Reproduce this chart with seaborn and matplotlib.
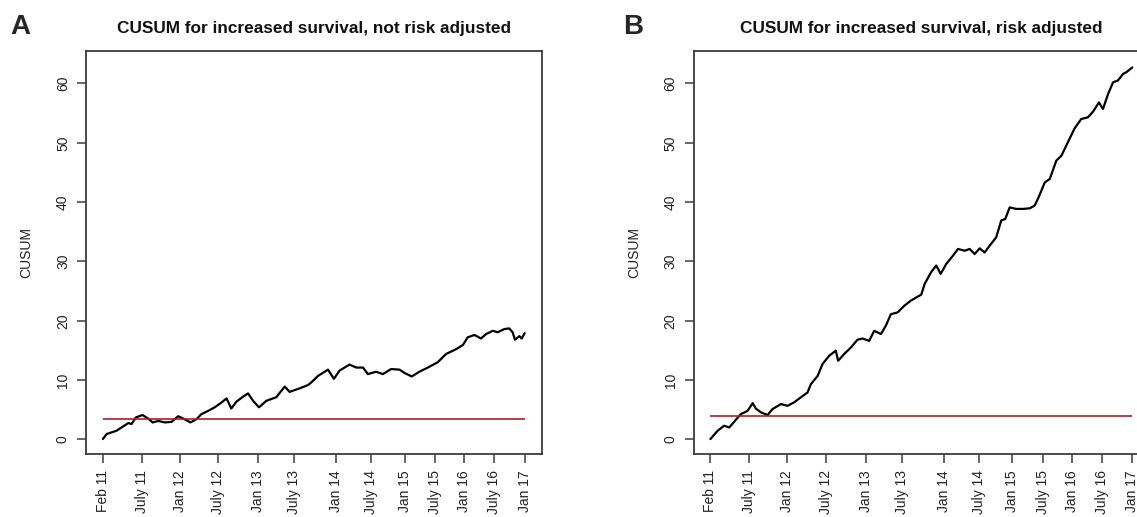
import matplotlib
matplotlib.use("Agg")
import matplotlib.pyplot as plt
import pandas as pd
import seaborn as sns

# ---- data (x = case number, y = CUSUM) ----
tick_cases = [1, 185, 366, 548, 737, 907, 1107, 1272, 1432, 1577, 1713, 1856, 2000]
tick_labels = ["Feb 11", "July 11", "Jan 12", "July 12", "Jan 13", "July 13", "Jan 14",
               "July 14", "Jan 15", "July 15", "Jan 16", "July 16", "Jan 17"]

# A: not risk adjusted
case_a = [1, 19, 66, 98, 122, 137, 158, 189, 216, 237, 264, 295, 327, 358, 382, 416,
          445, 468, 500, 531, 563, 587, 610, 634, 662, 689, 713, 741, 776, 823, 863,
          886, 934, 973, 989, 1021, 1068, 1096, 1123, 1170, 1202, 1234, 1257, 1296,
          1328, 1367, 1407, 1430, 1465, 1501, 1541, 1588, 1628, 1675, 1707, 1730,
          1762, 1793, 1817, 1849, 1872, 1904, 1927, 1943, 1954, 1975, 1986, 2000]
cusum_a = [0.05, 0.9, 1.45, 2.2, 2.75, 2.58, 3.7, 4.1, 3.5, 2.85, 3.1, 2.85, 2.95, 3.9,
           3.5, 2.85, 3.4, 4.25, 4.8, 5.4, 6.2, 6.9, 5.2, 6.35, 7.1, 7.75, 6.5, 5.4,
           6.5, 7.1, 8.9, 8.0, 8.6, 9.15, 9.6, 10.7, 11.75, 10.2, 11.6, 12.6, 12.1,
           12.1, 11.0, 11.4, 11.0, 11.85, 11.75, 11.2, 10.6, 11.4, 12.1, 13.0, 14.4,
           15.2, 15.9, 17.2, 17.6, 17.0, 17.75, 18.3, 18.05, 18.6, 18.7, 18.05, 16.8,
           17.4, 17.0, 17.9]
limit_a = 3.5

# B: risk adjusted
case_b = [1, 35, 66, 90, 113, 145, 177, 201, 216, 240, 272, 295, 335, 366, 398, 430,
          461, 477, 509, 532, 564, 595, 606, 635, 667, 698, 722, 753, 777, 809, 832,
          856, 888, 919, 951, 985, 1000, 1016, 1047, 1071, 1092, 1118, 1150, 1174,
          1206, 1229, 1253, 1277, 1300, 1324, 1355, 1379, 1398, 1419, 1450, 1482,
          1514, 1537, 1556, 1585, 1609, 1640, 1664, 1695, 1727, 1758, 1790, 1814,
          1842, 1861, 1885, 1909, 1932, 1956, 1972, 2000]
cusum_b = [0.05, 1.45, 2.3, 2.0, 2.95, 4.25, 4.8, 6.1, 5.2, 4.55, 4.1, 5.1, 5.95, 5.65,
           6.25, 7.1, 7.9, 9.3, 10.7, 12.7, 14.1, 14.95, 13.25, 14.4, 15.5, 16.8, 17.0,
           16.6, 18.3, 17.75, 19.15, 21.1, 21.4, 22.5, 23.4, 24.1, 24.4, 26.2, 28.2,
           29.3, 27.9, 29.55, 30.95, 32.1, 31.8, 32.1, 31.25, 32.2, 31.5, 32.65, 34.05,
           36.9, 37.15, 39.1, 38.85, 38.85, 38.95, 39.4, 40.8, 43.3, 43.9, 47.0, 47.8,
           50.1, 52.45, 54.0, 54.3, 55.25, 56.8, 55.7, 58.2, 60.2, 60.5, 61.6, 61.9,
           62.7]
limit_b = 3.9

titles = ["CUSUM for increased survival, not risk adjusted",
          "CUSUM for increased survival, risk adjusted"]
panel_letters = ["A", "B"]

sns.set_theme(style="ticks")
plt.rcParams["font.family"] = ["Liberation Sans", "DejaVu Sans"]

fig = plt.figure(figsize=(11.37, 5.17), dpi=100)
ax_a = fig.add_axes([0.0756, 0.1213, 0.4007, 0.7806])
ax_b = fig.add_axes([0.6100, 0.1213, 0.4007, 0.7806])

spine_col = "#3c3c3c"
panels = [(ax_a, case_a, cusum_a, limit_a), (ax_b, case_b, cusum_b, limit_b)]
for i, (ax, xs, ys, lim) in enumerate(panels):
    df = pd.DataFrame({"case": xs, "cusum": ys})
    sns.lineplot(data=df, x="case", y="cusum", ax=ax, color="black",
                 linewidth=1.6, estimator=None, sort=False)
    ax.hlines(lim, tick_cases[0], tick_cases[-1], color="#a82020", linewidth=1.2)

    span = tick_cases[-1] - tick_cases[0]
    ax.set_xlim(tick_cases[0] - 0.04 * span, tick_cases[-1] + 0.04 * span)
    ax.set_ylim(-2.52, 65.52)
    ax.set_xticks(tick_cases)
    ax.set_xticklabels(tick_labels, rotation=90, ha="center", va="top")
    ax.set_yticks([0, 10, 20, 30, 40, 50, 60])
    ax.set_yticklabels(["0", "10", "20", "30", "40", "50", "60"],
                       rotation=90, va="center", ha="right")
    ax.tick_params(axis="both", length=6.5, width=1.1, color=spine_col,
                   labelsize=10, labelcolor="#222222")
    ax.tick_params(axis="x", pad=5)
    ax.tick_params(axis="y", pad=5)
    for s in ax.spines.values():
        s.set_visible(True)
        s.set_color(spine_col)
        s.set_linewidth(1.3)

    ax.set_xlabel("")
    ax.set_ylabel("CUSUM", fontsize=10, color="#222222")
    ax.yaxis.set_label_coords(-0.115, 0.5)
    ax.set_title(titles[i], fontsize=12.4, fontweight="bold", pad=13, color="#111111")

fig.text(10 / 1137, 1 - 34 / 517, panel_letters[0], fontsize=20, fontweight="bold",
         va="baseline", ha="left")
fig.text(622.7 / 1137, 1 - 34 / 517, panel_letters[1], fontsize=20, fontweight="bold",
         va="baseline", ha="left")

fig.savefig("out.png", dpi=100)
